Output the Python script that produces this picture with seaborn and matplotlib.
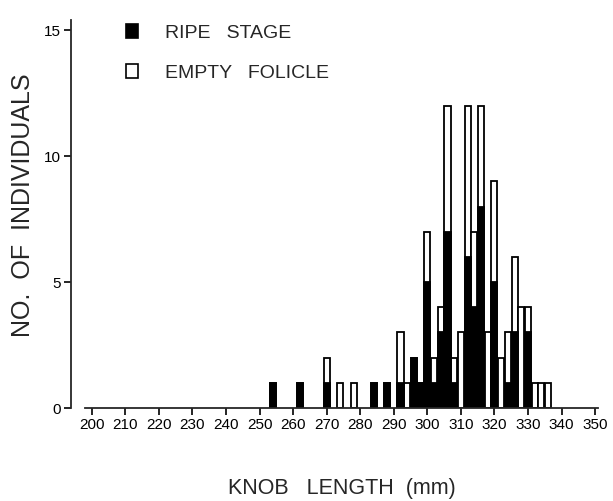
import numpy as np
import pandas as pd
import matplotlib
matplotlib.use("Agg")
import matplotlib.pyplot as plt
from matplotlib.patches import Patch
import seaborn as sns

# Knob length classes (2 mm) and counts per reproductive condition
length_mm = [254, 262, 270, 274, 278, 284, 288, 292, 294, 296, 298, 300, 302, 304,
             306, 308, 310, 312, 314, 316, 318, 320, 322, 324, 326, 328, 330, 332,
             334, 336]
ripe_stage = [1, 1, 1, 0, 0, 1, 1, 1, 0, 2, 1, 5, 1, 3,
              7, 1, 0, 6, 4, 8, 0, 5, 0, 1, 3, 0, 3, 0,
              0, 0]
empty_folicle = [0, 0, 1, 1, 1, 0, 0, 2, 1, 0, 0, 2, 1, 1,
                 5, 1, 3, 6, 3, 4, 3, 4, 2, 2, 3, 4, 1, 1,
                 1, 1]
x_ticks = list(range(200, 351, 10))
y_ticks = [0, 5, 10, 15]

df = pd.DataFrame({"length": length_mm, "ripe": ripe_stage, "empty": empty_folicle})
df["total"] = df["ripe"] + df["empty"]

sns.set_style("ticks")
plt.rcParams["font.family"] = ["Liberation Sans", "DejaVu Sans"]

fig = plt.figure(figsize=(6.13, 5.01), dpi=100)
ax = fig.add_axes([0.1158, 0.1856, 0.866, 0.774])

# stacked bars: full height (empty follicle on top) then the ripe part over it
sns.barplot(data=df, x="length", y="total", native_scale=True, width=0.9,
            color="white", edgecolor="black", linewidth=1.3, errorbar=None,
            saturation=1, ax=ax)
sns.barplot(data=df, x="length", y="ripe", native_scale=True, width=0.9,
            color="black", edgecolor="black", linewidth=1.3, errorbar=None,
            saturation=1, ax=ax)

ax.set_xlim(193.8, 352)
ax.set_ylim(0, 15.4)
ax.set_xticks(x_ticks)
ax.set_xticklabels([str(t) for t in x_ticks])
ax.set_yticks(y_ticks)
ax.set_yticklabels([str(t) for t in y_ticks])

for side in ("top", "right"):
    ax.spines[side].set_visible(False)
ax.spines["bottom"].set_bounds(198, 351)
ax.spines["left"].set_linewidth(1.3)
ax.spines["bottom"].set_linewidth(1.3)
ax.tick_params(axis="both", direction="out", length=5, width=1.2,
               labelsize=11, colors="black", pad=2.5)

ax.set_xlabel("KNOB   LENGTH  (mm)", fontsize=15.5)
ax.set_ylabel("NO.  OF  INDIVIDUALS", fontsize=18)
ax.xaxis.set_label_coords(0.51, -0.18)
ax.yaxis.set_label_coords(-0.067, 0.523)

handles = [Patch(facecolor="black", edgecolor="black", linewidth=1.2),
           Patch(facecolor="white", edgecolor="black", linewidth=1.2)]
fig.legend(handles, ["RIPE   STAGE", "EMPTY   FOLICLE"], loc="upper left",
           bbox_to_anchor=(118 / 613, 1 - 16 / 501), frameon=False,
           fontsize=14, handlelength=0.62, handleheight=0.72,
           handletextpad=1.4, labelspacing=1.15, borderaxespad=0)

fig.savefig("out.png", dpi=100, facecolor="white")
